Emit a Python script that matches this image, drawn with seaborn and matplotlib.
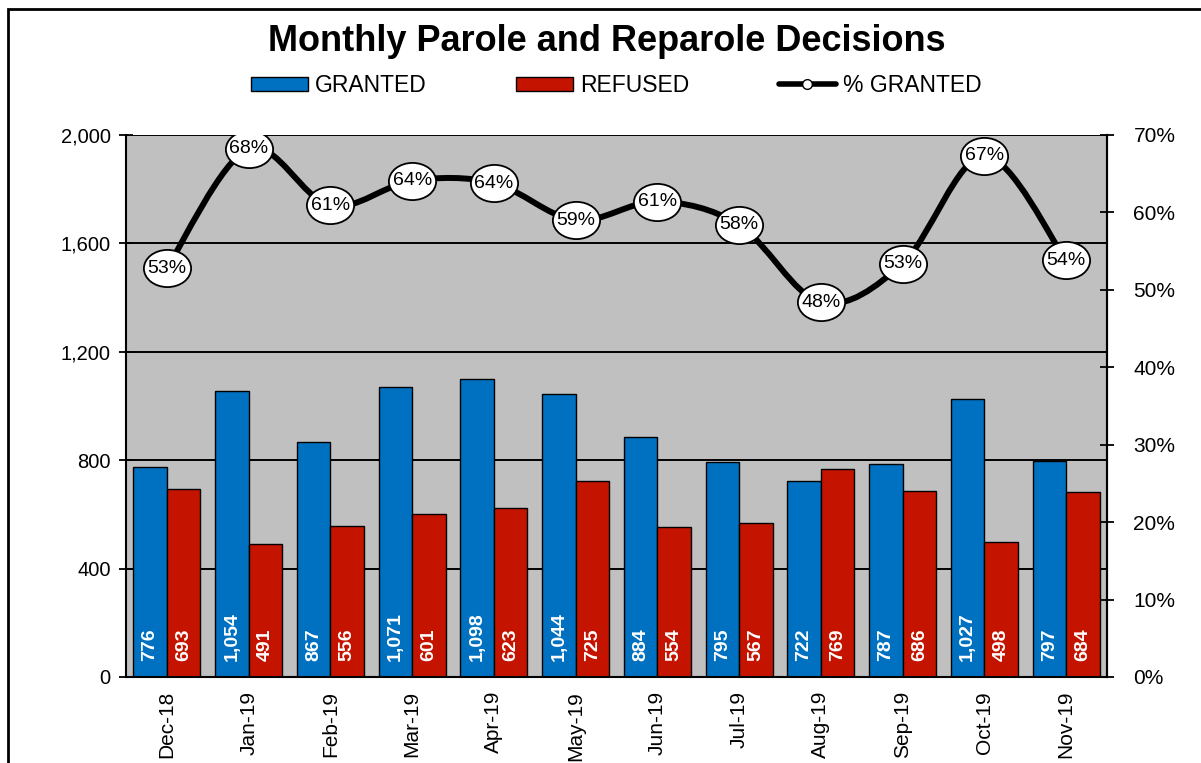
import pandas as pd
import numpy as np
import seaborn as sns
import matplotlib.pyplot as plt
from matplotlib.path import Path
from matplotlib.patches import PathPatch, Patch, Rectangle
from matplotlib.lines import Line2D
from matplotlib.transforms import Affine2D
from matplotlib.ticker import FuncFormatter, FixedLocator

# data
months = ['Dec-18', 'Jan-19', 'Feb-19', 'Mar-19', 'Apr-19', 'May-19',
          'Jun-19', 'Jul-19', 'Aug-19', 'Sep-19', 'Oct-19', 'Nov-19']
granted = [776, 1054, 867, 1071, 1098, 1044, 884, 795, 722, 787, 1027, 797]
refused = [693, 491, 556, 601, 623, 725, 554, 567, 769, 686, 498, 684]
pct_granted = [52.8, 68.2, 60.9, 64.1, 63.8, 59.0, 61.4, 58.4, 48.4, 53.4, 67.3, 53.8]

blue = '#0070C0'
red = '#C41400'

df = pd.DataFrame({'month': months * 2,
                   'count': granted + refused,
                   'type': ['GRANTED'] * len(months) + ['REFUSED'] * len(months)})

sns.set_style('white')
plt.rcParams['font.family'] = ['Liberation Sans', 'DejaVu Sans']
plt.rcParams['text.color'] = 'black'
plt.rcParams['xtick.color'] = 'black'
plt.rcParams['ytick.color'] = 'black'

fig = plt.figure(figsize=(12.01, 7.63), dpi=100)
ax = fig.add_axes([126 / 1201, 1 - 677 / 763, 981 / 1201, 542 / 763])
ax.set_facecolor('#C0C0C0')

sns.barplot(data=df, x='month', y='count', hue='type', order=months,
            palette=[blue, red], saturation=1, width=0.82, edgecolor='black',
            linewidth=1, legend=False, ax=ax, zorder=2)

ax.set_ylim(0, 2000)
ax.set_xlim(-0.5, len(months) - 0.5)
ax.set_yticks([0, 400, 800, 1200, 1600, 2000])
ax.yaxis.set_major_formatter(FuncFormatter(lambda v, p: f'{int(v):,}'))
ax.grid(axis='y', color='black', lw=1.4, zorder=1)
ax.set_axisbelow(True)
ax.set_xlabel('')
ax.set_ylabel('')
for s in ax.spines.values():
    s.set_color('black')
    s.set_linewidth(1.5)
ax.spines['top'].set_visible(False)

ax.tick_params(axis='y', direction='inout', length=10, width=1.3, labelsize=14.5, pad=6)
ax.tick_params(axis='x', which='major', length=0, labelsize=15, pad=10, labelrotation=90)
ax.xaxis.set_minor_locator(FixedLocator(np.arange(-0.5, len(months), 1)))
ax.tick_params(axis='x', which='minor', direction='inout', length=10, width=1.3)

# value labels inside the bars
for i in range(len(months)):
    ax.text(i - 0.205, 60, f'{granted[i]:,}', rotation=90, ha='center', va='bottom',
            color='white', fontsize=14, fontweight='bold', zorder=4)
    ax.text(i + 0.205, 60, f'{refused[i]:,}', rotation=90, ha='center', va='bottom',
            color='white', fontsize=14, fontweight='bold', zorder=4)

# secondary axis for % granted
ax2 = ax.twinx()
ax2.set_ylim(0, 70)
ax2.set_yticks(range(0, 71, 10))
ax2.yaxis.set_major_formatter(FuncFormatter(lambda v, p: f'{int(v)}%'))
ax2.tick_params(axis='y', direction='inout', length=10, width=1.3, labelsize=15, pad=14)
for s in ax2.spines.values():
    s.set_visible(False)
ax2.spines['right'].set_visible(True)
ax2.spines['right'].set_linewidth(1.5)
ax2.spines['right'].set_color('black')

# smoothed line (bezier through the points, like excel's smoothed line)
xs = np.arange(len(months), dtype=float)
ys = np.array(pct_granted)
verts = [(xs[0], ys[0])]
codes = [Path.MOVETO]
n = len(xs)
for i in range(n - 1):
    p0 = np.array([xs[max(i - 1, 0)], ys[max(i - 1, 0)]])
    p1 = np.array([xs[i], ys[i]])
    p2 = np.array([xs[i + 1], ys[i + 1]])
    p3 = np.array([xs[min(i + 2, n - 1)], ys[min(i + 2, n - 1)]])
    c1 = p1 + (p2 - p0) / 6
    c2 = p2 - (p3 - p1) / 6
    verts += [tuple(c1), tuple(c2), tuple(p2)]
    codes += [Path.CURVE4] * 3
ax2.add_patch(PathPatch(Path(verts, codes), fc='none', ec='black', lw=4.3, zorder=3))

# ellipse markers with the labels
ell = Path.unit_circle().transformed(Affine2D().scale(1.27, 1.0))
ax2.plot(xs, ys, ls='none', marker=ell, ms=34, mfc='white', mec='black', mew=1.3, zorder=4)
for x, y in zip(xs, ys):
    ax2.text(x, y, f'{y:.0f}%', ha='center', va='center', fontsize=14, zorder=5)

fig.suptitle('Monthly Parole and Reparole Decisions', x=0.505, y=0.968,
             fontsize=26, fontweight='bold')

handles = [Patch(fc=blue, ec='black', lw=1),
           Patch(fc=red, ec='black', lw=1),
           Line2D([0], [0], color='black', lw=4, marker='o', ms=7,
                  mfc='white', mec='black')]
fig.legend(handles, ['GRANTED', 'REFUSED', '% GRANTED'], loc='center',
           bbox_to_anchor=(0.513, 0.888), ncol=3, frameon=False, fontsize=16.5,
           handlelength=2.5, handleheight=0.55, handletextpad=0.3, columnspacing=3.9)

# border around the chart
fig.patches.append(Rectangle((8 / 1201, -0.05), 1.2, 1.05 - 9 / 763,
                             transform=fig.transFigure, fill=False, ec='black', lw=2))

fig.savefig('out.png', dpi=100)
